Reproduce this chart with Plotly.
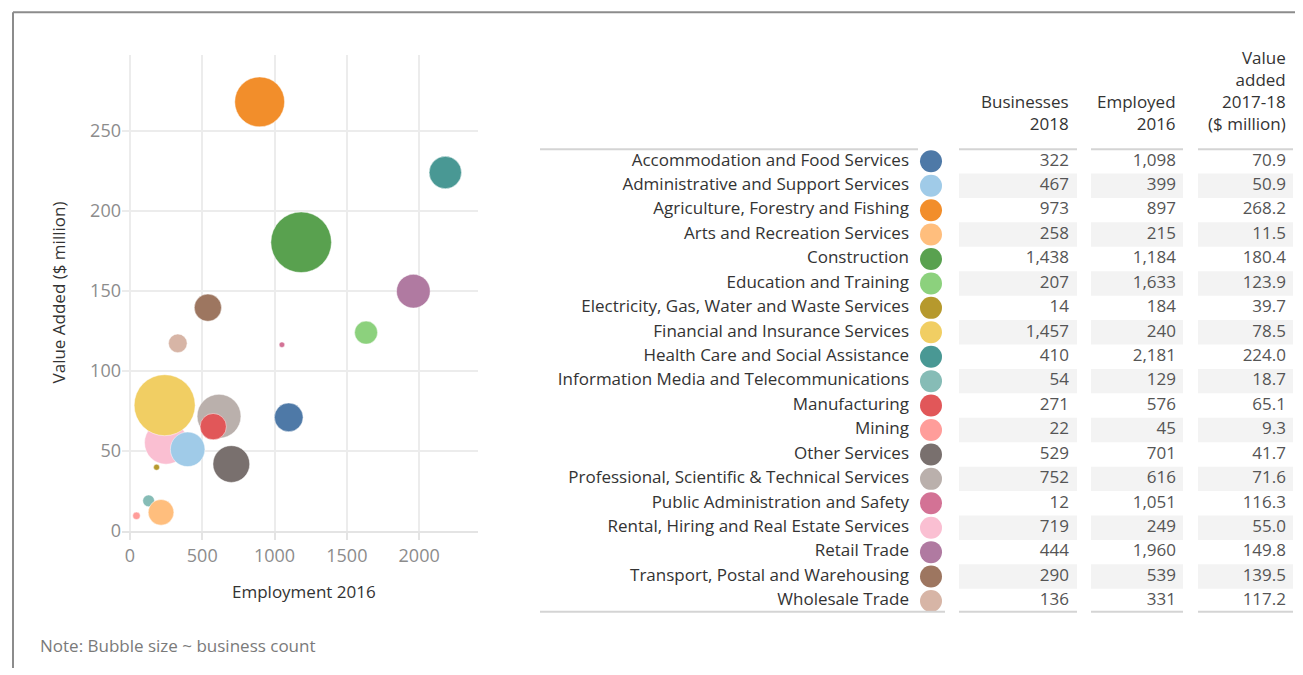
import plotly.graph_objs as go

industries = [
    'Accommodation and Food Services',
    'Administrative and Support Services',
    'Agriculture, Forestry and Fishing',
    'Arts and Recreation Services',
    'Construction',
    'Education and Training',
    'Electricity, Gas, Water and Waste Services',
    'Financial and Insurance Services',
    'Health Care and Social Assistance',
    'Information Media and Telecommunications',
    'Manufacturing',
    'Mining',
    'Other Services',
    'Professional, Scientific & Technical Services',
    'Public Administration and Safety',
    'Rental, Hiring and Real Estate Services',
    'Retail Trade',
    'Transport, Postal and Warehousing',
    'Wholesale Trade',
]
businesses_2018 = [322, 467, 973, 258, 1438, 207, 14, 1457, 410, 54, 271, 22, 529, 752, 12, 719, 444, 290, 136]
employed_2016 = [1098, 399, 897, 215, 1184, 1633, 184, 240, 2181, 129, 576, 45, 701, 616, 1051, 249, 1960, 539, 331]
value_added = [70.9, 50.9, 268.2, 11.5, 180.4, 123.9, 39.7, 78.5, 224.0, 18.7, 65.1, 9.3, 41.7, 71.6, 116.3, 55.0,
               149.8, 139.5, 117.2]
colors = ['#4e79a7', '#a0cbe8', '#f28e2b', '#ffbe7d', '#59a14f', '#8cd17d', '#b6992d', '#f1ce63', '#499894',
          '#86bcb6', '#e15759', '#ff9d9a', '#79706e', '#bab0ac', '#d37295', '#fabfd2', '#b07aa1', '#9d7660',
          '#d7b5a6']
x_ticks = [0, 500, 1000, 1500, 2000]
y_ticks = [0, 50, 100, 150, 200, 250]
headers = ['Businesses<br>2018', 'Employed<br>2016', 'Value<br>added<br>2017-18<br>($ million)']

# page keeps the default 8px body margin; the captured page is a little taller than 675
PAGE_W, PAGE_H, OFF = 1303, 687, 8
SY = PAGE_H / 675
W, H = PAGE_W - 2 * OFF, PAGE_H - 2 * OFF
FONT = 'Open Sans'
DARK = '#333333'
NUM = '#555555'
TICK = '#8c8c8c'


def px(x):
    return (x - OFF) / W


def py(y):
    return 1 - (y * SY - OFF) / H


# bubble diameter ~ business count (area scaling)
max_b = max(businesses_2018)
diam = [61 * (b / max_b) ** 0.5 for b in businesses_2018]
order = list(range(len(industries)))[::-1]

fig = go.Figure()

fig.add_trace(go.Scatter(
    x=[employed_2016[i] for i in order],
    y=[value_added[i] for i in order],
    mode='markers',
    marker=dict(size=[diam[i] for i in order], color=[colors[i] for i in order],
                opacity=1, line=dict(width=0.8, color='rgba(255,255,255,0.6)')),
    text=[industries[i] for i in order],
    hovertemplate='%{text}<br>Employed: %{x}<br>Value added: %{y}<extra></extra>',
    cliponaxis=False,
    showlegend=False,
))

# table side (x2 axis is in page pixels)
col_label = 909
col_circle = 931
col_right = [1069, 1176, 1286]
col_bands = [(959, 1077), (1091, 1183), (1198, 1293)]

fig.add_trace(go.Scatter(
    x=[col_label] * len(industries), y=industries, text=industries,
    mode='text', textposition='middle left',
    textfont=dict(family=FONT, size=17, color=DARK),
    xaxis='x2', yaxis='y2', hoverinfo='skip', showlegend=False,
))
fig.add_trace(go.Scatter(
    x=[col_circle] * len(industries), y=industries,
    mode='markers', marker=dict(size=22, color=colors),
    xaxis='x2', yaxis='y2', hoverinfo='skip', showlegend=False,
))
columns = [
    [f'{v:,}' for v in businesses_2018],
    [f'{v:,}' for v in employed_2016],
    [f'{v:.1f}' for v in value_added],
]
for xr, vals in zip(col_right, columns):
    fig.add_trace(go.Scatter(
        x=[xr] * len(industries), y=industries, text=vals,
        mode='text', textposition='middle left',
        textfont=dict(family=FONT, size=17, color=NUM),
        xaxis='x2', yaxis='y2', hoverinfo='skip', showlegend=False,
    ))

shapes = []
for i in range(1, len(industries), 2):
    for x0, x1 in col_bands:
        shapes.append(dict(type='rect', xref='x2', yref='y2', x0=x0, x1=x1, y0=i - 0.5, y1=i + 0.5,
                           fillcolor='#f3f3f3', line=dict(width=0), layer='below'))
for (x0, x1), y in [((540, 918), 149), ((540, 945), 611)]:
    shapes.append(dict(type='line', xref='paper', yref='paper', x0=px(x0), x1=px(x1), y0=py(y), y1=py(y),
                       line=dict(color='#d4d4d4', width=2)))
for x0, x1 in col_bands:
    for y in (149, 611):
        shapes.append(dict(type='line', xref='paper', yref='paper', x0=px(x0), x1=px(x1), y0=py(y), y1=py(y),
                           line=dict(color='#d4d4d4', width=2)))
# outer frame
shapes.append(dict(type='line', xref='paper', yref='paper', x0=px(13), x1=1, y0=py(12), y1=py(12),
                   line=dict(color='#8c8c8c', width=2)))
shapes.append(dict(type='line', xref='paper', yref='paper', x0=px(13), x1=px(13), y0=py(12), y1=0,
                   line=dict(color='#8c8c8c', width=2)))

annotations = [
    dict(text='Employment 2016', x=px(304), y=py(591), xref='paper', yref='paper', showarrow=False,
         xanchor='center', yanchor='middle', font=dict(family=FONT, size=17, color=DARK)),
    dict(text='Value Added ($ million)', x=px(58), y=py(292), xref='paper', yref='paper', showarrow=False,
         xanchor='center', yanchor='middle', textangle=-90, font=dict(family=FONT, size=17, color=DARK)),
    dict(text='Note: Bubble size ~ business count', x=px(38), y=py(645), xref='paper', yref='paper',
         xanchor='left', yanchor='middle', showarrow=False, font=dict(family=FONT, size=17, color='#7a7a7a')),
]
for xr, h in zip(col_right, headers):
    annotations.append(dict(text=h, x=xr + 2, y=py(137), xref='x2', yref='paper', xanchor='right',
                            yanchor='bottom', align='right', showarrow=False,
                            font=dict(family=FONT, size=17, color=DARK)))

fig.update_layout(
    width=W, height=H,
    margin=dict(l=0, r=0, t=0, b=0),
    paper_bgcolor='white', plot_bgcolor='white',
    font=dict(family=FONT, size=17, color=DARK),
    xaxis=dict(domain=[px(122), px(478)], range=[-55, 2407], tickvals=x_ticks,
               showgrid=True, gridcolor='#ececec', gridwidth=1.5, zeroline=False,
               showline=True, linecolor='#e4e4e4', linewidth=1.5,
               ticks='outside', ticklen=8, tickcolor='#e4e4e4', tickwidth=1.5,
               tickfont=dict(family=FONT, size=18, color=TICK)),
    yaxis=dict(domain=[py(530), py(55)], range=[0, 297.4], tickvals=y_ticks,
               showgrid=True, gridcolor='#ececec', gridwidth=1.5, zeroline=False,
               showline=False, ticks='',
               tickfont=dict(family=FONT, size=18, color=TICK)),
    xaxis2=dict(domain=[px(530), px(PAGE_W - OFF)], range=[530, PAGE_W - OFF], visible=False, anchor='y2'),
    yaxis2=dict(domain=[py(612.4), py(148.8)], type='category', categoryarray=industries,
                range=[len(industries) - 0.5, -0.5], visible=False, anchor='x2'),
    shapes=shapes,
    annotations=annotations,
)

fig.write_html('out.html', config={'displayModeBar': False})
